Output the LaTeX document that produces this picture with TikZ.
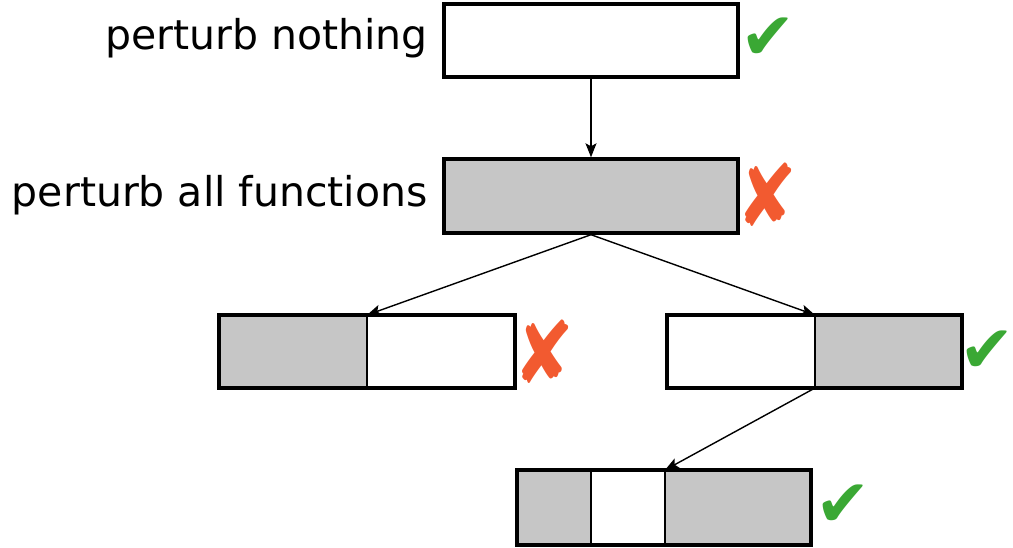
\documentclass[tikz,border=0pt]{standalone}
\usepackage{fontspec}
\setmainfont{DejaVu Sans}
\usetikzlibrary{arrows.meta}
\definecolor{okgreen}{RGB}{58,168,52}
\definecolor{badred}{RGB}{242,90,48}
\definecolor{pgray}{RGB}{198,198,198}
\begin{document}
\begin{tikzpicture}[x=1pt,y=-1pt,
  outer/.style={draw=black,line width=3.4pt},
  cell/.style={draw=black,line width=1.5pt},
  conn/.style={draw=black,line width=1.4pt,-{Stealth[length=14pt,width=11pt,inset=3pt]}},
  lbl/.style={font=\fontsize{41}{41}\selectfont,anchor=base east,inner sep=0pt},
  okmark/.style={font=\fontsize{66}{66}\selectfont,text=okgreen,inner sep=0pt},
  badmark/.style={font=\fontsize{86}{86}\selectfont,text=badred,inner sep=0pt,xscale=0.85}]
\useasboundingbox (0,0) rectangle (1013,548);
% box 1
\node[outer,fill=white,minimum width=294pt,minimum height=73pt,inner sep=0pt] (b1) at (591,40.5) {};
% box 2
\node[outer,fill=pgray,minimum width=294pt,minimum height=74pt,inner sep=0pt] (b2) at (591,196) {};
% box 3
\fill[pgray] (219,315) rectangle (367,388);
\fill[white] (367,315) rectangle (515,388);
\coordinate (b3t) at (367,315);
\coordinate (b3b) at (367,388);
\draw[cell] (b3t) -- (b3b);
\draw[outer] (219,315) rectangle (515,388);
% box 4
\fill[white] (667,315) rectangle (815,388);
\fill[pgray] (815,315) rectangle (962,388);
\coordinate (b4t) at (815,315);
\coordinate (b4b) at (815,388);
\draw[cell] (b4t) -- (b4b);
\draw[outer] (667,315) rectangle (962,388);
% box 5
\fill[pgray] (517,470) rectangle (591,545);
\fill[white] (591,470) rectangle (665,545);
\fill[pgray] (665,470) rectangle (811,545);
\coordinate (b5t) at (665,470);
\draw[cell] (591,470) -- (591,545);
\draw[cell] (b5t) -- (665,545);
\draw[outer] (517,470) rectangle (811,545);
% labels
\node[lbl] (l1) at (428,50) {perturb nothing};
\node[lbl] (l2) at (428,207) {perturb all functions};
% marks
\node[okmark] (m1) at (768,39) {✔};
\node[badmark] (m2) at (767,195) {✘};
\node[badmark] (m3) at (544,352) {✘};
\node[okmark] (m4) at (987,352) {✔};
\node[okmark] (m5) at (843,506) {✔};
% connectors
\draw[conn] (b1.south) -- (b2.north);
\draw[conn] (b2.south) -- (b3t);
\draw[conn] (b2.south) -- (b4t);
\draw[conn] (b4b) -- (b5t);
\end{tikzpicture}
\end{document}
